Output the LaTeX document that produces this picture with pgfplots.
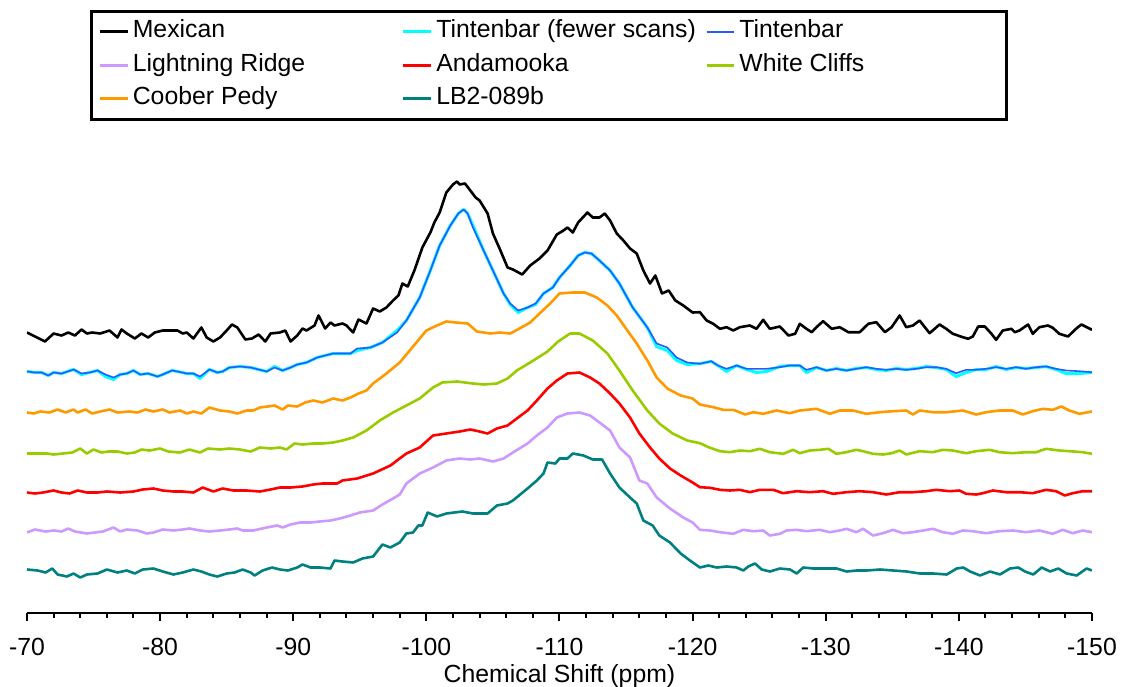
\documentclass[border=0pt]{standalone}
\usepackage{fontspec}
\setmainfont{Liberation Sans}
\usepackage{pgfplots}
\pgfplotsset{compat=1.18}
\definecolor{cCyan}{RGB}{0,255,255}
\definecolor{cBlue}{RGB}{40,90,255}
\definecolor{cPurple}{RGB}{204,153,255}
\definecolor{cRed}{RGB}{255,0,0}
\definecolor{cGreen}{RGB}{153,204,0}
\definecolor{cOrange}{RGB}{255,153,0}
\definecolor{cTeal}{RGB}{0,128,128}
\newcommand\fs{\fontsize{12.4pt}{14pt}\selectfont}
\begin{document}
\begin{tikzpicture}
\useasboundingbox (-13.5pt,-36.75pt) rectangle (550.5pt,306.25pt);
\begin{axis}[
  at={(0,0)}, anchor=south west,
  scale only axis, width=532.5pt, height=236pt,
  xmin=-150, xmax=-70, ymin=0, ymax=472,
  x dir=reverse,
  axis x line*=bottom, hide y axis,
  axis line style={line width=1pt,-},
  xtick={-150,-140,...,-70},
  minor x tick num=4,
  tick align=outside,
  major tick length=4pt, minor tick length=2.5pt,
  tick style={line width=1pt,black},
  ytick=\empty,
  no markers,
  /pgf/number format/assume math mode=true,
  xticklabel style={font=\fs, anchor=base, yshift=-17.5pt},
  xlabel={Chemical Shift (ppm)},
  xlabel style={font=\fs, at={(axis description cs:0.5,0)}, anchor=base, yshift=-35pt},
  legend columns=3,
  legend style={
    at={(axis description cs:0.0593,1.2765)}, anchor=north west,
    draw=black, line width=1.3pt, fill=white,
    inner xsep=3.65pt, inner ysep=4.25pt,
    font=\fs, row sep=4.75pt, column sep=0pt,
    cells={anchor=west},
    nodes={inner sep=0pt, text height=9pt, text depth=3pt},
    /tikz/every odd column/.append style={column sep=2pt},
  },
  legend image code/.code={\draw[#1,line cap=butt] (0pt,0pt) -- (13.75pt,0pt);},
  every axis plot/.append style={line join=round},
]
% Mexican
\addplot[black, line width=1.3pt] coordinates {
(-70.0,280)(-71.35,271)(-72.0,279)(-72.6,277)(-73.1,280)(-73.6,277)(-74.1,283)(-74.5,279)(-74.9,280)(-75.5,279)
(-76.2,282)(-76.8,275)(-77.1,283)(-77.5,279)(-78.1,274)(-78.6,279)(-79.1,275)(-79.6,280)(-80.2,282)(-81.3,282)
(-81.7,279)(-82.0,280)(-82.5,274)(-83.1,285)(-83.5,275)(-84.0,271)(-84.5,275)(-85.0,282)(-85.4,288)(-85.8,285)
(-86.4,273)(-86.9,274)(-87.4,278)(-87.9,271)(-88.3,279)(-89.0,280)(-89.4,282)(-89.8,271)(-90.3,277)(-90.7,284)
(-91.0,282)(-91.6,287)(-91.9,297)(-92.4,284)(-92.8,290)(-93.1,287)(-93.7,289)(-94.0,287)(-94.5,280)(-94.9,293)
(-95.5,289)(-96.0,304)(-96.5,301)(-97.0,305)(-97.5,312)(-97.9,317)(-98.2,329)(-98.6,326)(-99.1,342)(-99.7,365)
(-100.3,380)(-100.6,390)(-101.0,400)(-101.5,420)(-102.0,428)(-102.3,431)(-102.5,428)(-102.9,429)(-103.3,422)(-103.7,415)
(-104.0,412)(-104.6,399)(-105.0,379)(-105.5,364)(-106.1,345)(-106.5,343)(-107.2,338)(-107.8,347)(-108.5,354)(-109.1,362)
(-109.8,378)(-110.3,382)(-110.6,385)(-111.0,380)(-111.4,390)(-112.1,400)(-112.5,395)(-113.0,395)(-113.4,399)(-113.8,392)
(-114.3,379)(-114.8,372)(-115.3,364)(-115.8,359)(-116.3,342)(-116.8,329)(-117.2,337)(-117.7,319)(-118.2,322)(-118.7,312)
(-119.3,307)(-120.0,300)(-120.55,300.3)(-121.05,292)(-121.55,288.7)(-122.05,283.7)(-122.55,285.3)(-123.05,282)(-123.55,285.3)(-124.3,287)
(-124.8,283.7)(-125.3,292.7)(-125.8,283.7)(-126.55,286)(-127.2,277)(-127.7,278.7)(-128.05,288.7)(-128.55,283.7)(-128.95,280.3)(-129.3,285.3)
(-129.8,291.3)(-130.45,283.7)(-131.05,285.3)(-131.7,280.3)(-132.55,280.3)(-133.2,288.7)(-133.8,290.3)(-134.45,280.3)(-134.95,285.3)(-135.55,297)
(-136.05,285.3)(-136.55,287)(-137.05,292)(-137.8,279.3)(-138.55,288)(-139.05,283.7)(-139.55,278.7)(-140.3,275.3)(-140.7,273.7)(-141.05,276)
(-141.45,286)(-141.95,286)(-142.45,278.7)(-142.8,272.7)(-143.3,282)(-143.95,283.7)(-144.2,280.3)(-144.55,282)(-145.2,288)(-145.55,278.7)
(-146.05,285.3)(-146.7,287)(-147.05,284.7)(-147.55,278.7)(-148.2,276)(-148.8,283.7)(-149.2,288)(-150.0,282.7)
};
\addlegendentry{\makebox[134.5pt][l]{Mexican}}
% Tintenbar (fewer scans)
\addplot[cCyan, line width=1.5pt] coordinates {
(-70.0,241)(-70.6,240)(-71.1,240)(-71.6,237)(-72.0,240)(-72.6,239)(-73.5,243)(-74.1,238)(-74.7,240)(-75.3,242)
(-75.9,236)(-76.5,233)(-77.0,238)(-77.5,239)(-78.0,242)(-78.5,238)(-79.1,239)(-79.8,236)(-80.2,238)(-80.9,242)
(-81.3,241)(-82.0,239)(-82.5,239)(-83.0,234)(-83.7,243)(-84.3,240)(-84.7,241)(-85.2,245)(-86.0,246)(-86.8,245)
(-87.4,243)(-88.0,241)(-88.6,246)(-89.2,242)(-89.8,245)(-90.3,248)(-91.0,250)(-91.8,255)(-92.4,257)(-93.0,259)
(-93.7,259)(-94.3,259)(-94.8,262)(-95.8,265)(-96.7,270)(-97.8,282)(-98.5,292)(-99.5,315)(-100.3,342)(-101.0,367)
(-101.8,387)(-102.4,399)(-102.8,403)(-103.1,399)(-103.5,387)(-104.3,362)(-105.0,342)(-105.8,319)(-106.3,308)(-106.9,300)
(-107.6,305)(-108.2,308)(-108.8,319)(-109.5,325)(-110.0,335)(-110.8,347)(-111.4,357)(-111.9,360)(-112.4,359)(-113.0,352)
(-113.8,342)(-114.5,329)(-115.5,305)(-116.6,285)(-117.3,266)(-118.1,262)(-118.8,252)(-119.6,248)(-120.55,249)(-121.4,251)
(-121.9,247)(-122.55,241)(-123.3,247)(-124.05,243)(-124.8,240)(-125.55,241)(-126.55,246)(-127.3,247)(-128.05,247)(-128.55,240)
(-129.3,245)(-130.05,242)(-130.8,244)(-131.55,242)(-132.3,244)(-133.05,245)(-133.8,243)(-134.55,242)(-135.3,244)(-136.05,243)
(-136.8,244)(-137.55,246)(-138.3,245)(-139.05,243)(-139.8,236)(-140.55,240)(-141.3,243)(-142.05,243)(-142.8,246)(-143.55,243)
(-144.3,245)(-145.05,244)(-145.8,245)(-146.55,246)(-147.3,243)(-148.05,239)(-149.05,239)(-150.0,240)
};
\addlegendentry{\makebox[134.5pt][l]{Tintenbar (fewer scans)}}
% Tintenbar
\addplot[cBlue, line width=0.8pt] coordinates {
(-70.0,241)(-70.6,240)(-71.1,240)(-71.6,237)(-72.0,240)(-72.6,239)(-73.5,243)(-74.1,239)(-74.7,240)(-75.3,242)
(-75.9,238)(-76.5,235)(-77.0,238)(-77.5,239)(-78.0,242)(-78.5,238)(-79.1,239)(-79.8,236)(-80.2,238)(-80.9,242)
(-81.3,241)(-82.0,239)(-82.5,239)(-83.0,236)(-83.7,243)(-84.3,240)(-84.7,241)(-85.2,245)(-86.0,246)(-86.8,245)
(-87.4,243)(-88.0,241)(-88.6,245)(-89.2,242)(-89.8,245)(-90.3,248)(-91.0,250)(-91.8,255)(-92.4,257)(-93.0,259)
(-93.7,259)(-94.3,259)(-94.8,264)(-95.8,265)(-96.7,270)(-97.8,280)(-98.5,292)(-99.5,315)(-100.3,342)(-101.0,367)
(-101.8,387)(-102.4,399)(-102.8,403)(-103.1,399)(-103.5,385)(-104.3,362)(-105.0,342)(-105.8,319)(-106.3,309)(-106.9,302)
(-107.6,305)(-108.2,309)(-108.8,319)(-109.5,325)(-110.0,335)(-110.8,347)(-111.4,357)(-111.9,360)(-112.4,359)(-113.0,352)
(-113.8,342)(-114.5,329)(-115.5,305)(-116.6,285)(-117.3,269)(-118.1,265)(-118.8,255)(-119.6,250)(-120.55,248.7)(-121.4,251.3)
(-121.9,247)(-122.55,243.7)(-123.3,247)(-124.05,243.7)(-124.8,243.7)(-125.55,243.7)(-126.55,245.3)(-127.3,247)(-128.05,247)(-128.55,242.7)
(-129.3,245.3)(-130.05,242)(-130.8,243.7)(-131.55,242)(-132.3,243.7)(-133.05,245.3)(-133.8,243.7)(-134.55,242.7)(-135.3,243.7)(-136.05,242.7)
(-136.8,243.7)(-137.55,245.3)(-138.3,245.3)(-139.05,243.7)(-139.8,239.3)(-140.55,242.7)(-141.3,242.7)(-142.05,243.7)(-142.8,245.3)(-143.55,243.7)
(-144.3,245.3)(-145.05,243.7)(-145.8,245.3)(-146.55,246)(-147.3,243.7)(-148.05,242)(-149.05,241.3)(-150.0,240.3)
};
\addlegendentry{\makebox[130pt][l]{Tintenbar}}
% Lightning Ridge
\addplot[cPurple, line width=1.3pt] coordinates {
(-70.0,80)(-70.6,83)(-71.4,81)(-72.0,82)(-72.6,81)(-73.1,84)(-73.6,81)(-74.5,79)(-75.1,80)(-75.7,81)
(-76.5,85)(-77.0,81)(-77.5,83)(-78.3,82)(-79.0,79)(-79.5,80)(-80.2,83)(-81.0,82)(-81.7,83)(-82.2,84)
(-83.0,82)(-83.7,81)(-84.5,82)(-85.2,83)(-85.8,84)(-86.2,82)(-87.0,82)(-88.0,85)(-88.8,87)(-89.2,85)
(-89.8,88)(-90.5,90)(-91.3,90)(-92.0,91)(-92.8,92)(-93.5,94)(-94.3,97)(-95.0,100)(-96.0,102)(-96.7,108)
(-97.5,114)(-98.0,118)(-98.5,129)(-99.5,139)(-100.5,145)(-101.5,152)(-102.5,154)(-103.3,153)(-104.0,154)(-105.0,151)
(-105.8,154)(-106.5,160)(-107.6,169)(-108.3,177)(-109.1,185)(-109.8,195)(-110.6,199)(-111.5,200)(-112.3,197)(-113.0,190)
(-113.8,182)(-114.5,165)(-115.3,155)(-116.0,132)(-116.6,129)(-117.3,115)(-118.3,104)(-119.3,95)(-120.0,90)(-120.55,82.7)
(-121.3,82)(-122.05,80.3)(-123.05,78.7)(-123.8,82.7)(-124.55,81.3)(-125.3,82)(-125.8,77)(-126.55,78.7)(-127.05,82)(-127.8,82.7)
(-128.55,81.3)(-129.55,82.7)(-130.3,80.3)(-131.05,82)(-131.55,83.7)(-132.3,80.3)(-132.8,83.7)(-133.55,77)(-134.3,79.3)(-135.05,82.7)
(-135.8,79.3)(-136.55,80.3)(-137.3,82)(-138.05,83.7)(-138.8,80.3)(-139.55,78.7)(-140.3,82)(-141.05,81.3)(-142.05,79.3)(-143.05,81.3)
(-144.05,82)(-145.05,80.3)(-146.05,82)(-147.05,78.7)(-147.8,82.7)(-148.55,79.3)(-149.3,82)(-150.0,80.3)
};
\addlegendentry{\makebox[134.5pt][l]{Lightning Ridge}}
% Andamooka
\addplot[cRed, line width=1.3pt] coordinates {
(-70.0,120)(-70.6,119)(-71.2,120)(-72.0,122)(-72.6,120)(-73.2,119)(-73.8,122)(-74.5,120)(-75.3,120)(-76.0,121)
(-77.0,120)(-78.0,121)(-78.7,123)(-79.5,124)(-80.2,122)(-81.0,121)(-81.7,121)(-82.5,120)(-83.2,125)(-84.0,121)
(-84.7,124)(-85.5,122)(-86.5,122)(-87.5,121)(-88.3,123)(-89.0,125)(-89.8,125)(-90.7,126)(-91.5,128)(-92.2,129)
(-93.3,129)(-93.7,132)(-94.8,134)(-96.0,139)(-97.3,147)(-98.5,159)(-99.5,165)(-100.5,177)(-101.5,179)(-102.5,181)
(-103.3,183)(-104.0,181)(-104.6,179)(-105.3,184)(-106.1,187)(-106.8,194)(-107.6,202)(-108.3,212)(-109.1,224)(-109.8,232)
(-110.6,239)(-111.5,240)(-112.3,235)(-113.0,229)(-113.8,219)(-114.5,209)(-115.3,195)(-116.0,179)(-116.8,165)(-117.5,154)
(-118.3,144)(-119.1,137)(-120.0,130)(-120.55,125.3)(-121.3,124.7)(-122.05,122.7)(-122.8,122)(-123.55,122.7)(-124.3,120.3)(-125.05,122.7)
(-126.05,122.7)(-126.8,119.3)(-127.8,121.3)(-128.8,120.3)(-129.8,121.3)(-130.55,118.7)(-131.55,120.3)(-132.55,121.3)(-133.55,120.3)(-134.55,118)
(-135.55,120.3)(-136.55,120.3)(-137.55,121.3)(-138.3,122.7)(-139.3,121.3)(-140.05,122)(-140.55,118.7)(-141.3,118)(-141.8,119.3)(-142.55,122)
(-143.55,120.3)(-144.55,120.3)(-145.55,119.3)(-146.55,122.7)(-147.3,121.3)(-147.95,117)(-148.55,119.3)(-149.3,121.3)(-150.0,121.3)
};
\addlegendentry{\makebox[134.5pt][l]{Andamooka}}
% White Cliffs
\addplot[cGreen, line width=1.3pt] coordinates {
(-70.0,159)(-70.8,159)(-71.5,159)(-72.0,158)(-72.7,159)(-73.4,160)(-74.0,164)(-74.5,159)(-75.0,163)(-75.6,160)
(-76.1,161)(-76.8,161)(-77.5,159)(-78.1,160)(-78.6,163)(-79.2,162)(-80.0,164)(-80.6,161)(-81.5,160)(-82.2,163)
(-83.0,160)(-83.6,164)(-84.5,163)(-85.2,164)(-86.0,163)(-86.8,161)(-87.5,165)(-88.3,164)(-89.0,165)(-89.5,163)
(-90.1,169)(-90.7,168)(-91.5,169)(-92.2,169)(-93.0,170)(-93.7,172)(-94.5,175)(-95.5,182)(-96.5,192)(-97.5,200)
(-98.5,207)(-99.5,214)(-100.5,225)(-101.2,230)(-102.3,231)(-103.5,229)(-104.3,228)(-105.3,229)(-106.1,234)(-106.8,242)
(-107.8,250)(-109.1,261)(-109.9,271)(-110.8,279)(-111.5,279)(-112.5,272)(-113.6,259)(-114.5,242)(-115.5,222)(-116.6,202)
(-117.5,189)(-118.5,179)(-119.6,172)(-120.55,169.3)(-121.2,165.3)(-122.05,161.3)(-122.8,160.3)(-123.55,162)(-124.3,161.3)(-125.05,163.7)
(-125.8,160.3)(-126.8,158.7)(-127.55,162.7)(-128.05,159.3)(-128.8,162)(-129.55,162.7)(-130.2,163.7)(-130.8,158.7)(-131.55,160.3)(-132.3,162.7)
(-132.8,161.3)(-133.55,158.7)(-134.3,158)(-134.95,159.3)(-135.55,162)(-136.05,158)(-137.05,161.3)(-138.05,160.3)(-138.8,162.7)(-139.55,162)
(-140.55,159.3)(-141.3,161.3)(-142.3,162.7)(-143.05,160.3)(-144.05,159.3)(-145.05,160.3)(-145.8,160.3)(-146.55,163.7)(-147.55,162)(-148.3,161.3)
(-149.3,160.3)(-150.0,158.7)
};
\addlegendentry{\makebox[130pt][l]{White Cliffs}}
% Coober Pedy
\addplot[cOrange, line width=1.3pt] coordinates {
(-70.0,200)(-70.5,199)(-71.0,201)(-71.7,200)(-72.3,203)(-72.9,200)(-73.5,203)(-73.8,200)(-74.4,203)(-74.9,199)
(-75.5,201)(-76.2,203)(-76.8,200)(-77.7,201)(-78.3,200)(-78.9,203)(-79.5,201)(-80.2,203)(-80.7,200)(-81.5,202)
(-82.0,199)(-82.5,201)(-83.1,199)(-83.7,205)(-84.5,202)(-85.2,201)(-85.8,199)(-86.5,202)(-87.0,202)(-87.5,205)
(-88.1,206)(-88.6,207)(-89.2,203)(-89.6,207)(-90.3,206)(-90.9,210)(-91.5,212)(-92.2,210)(-93.0,214)(-93.7,212)
(-94.3,215)(-94.9,219)(-95.5,222)(-96.0,229)(-97.0,239)(-98.0,250)(-99.0,266)(-100.0,282)(-100.8,287)(-101.5,291)
(-102.2,290)(-103.1,289)(-103.8,281)(-104.8,279)(-105.5,280)(-106.3,279)(-107.0,284)(-107.8,290)(-108.5,299)(-109.3,309)
(-110.0,319)(-111.0,320)(-111.9,320)(-112.8,315)(-113.6,307)(-114.3,297)(-115.1,282)(-115.8,269)(-116.6,252)(-117.3,235)
(-118.1,224)(-119.1,217)(-120.0,214)(-120.55,208)(-121.55,205.3)(-122.3,202.7)(-123.05,202.7)(-123.95,198)(-124.55,200.3)(-125.3,198.7)
(-126.3,202)(-127.3,199.3)(-128.05,202)(-129.3,203.7)(-130.3,198.7)(-131.05,202)(-132.05,202)(-133.05,198.7)(-134.05,200.3)(-135.05,201.3)
(-136.05,202)(-136.55,198)(-137.05,202)(-138.05,200.3)(-139.05,200.3)(-140.3,202)(-141.3,198)(-142.05,200.3)(-143.05,202)(-144.05,202)
(-144.8,198)(-145.55,201.3)(-146.3,203.7)(-147.05,202.7)(-147.7,206)(-148.3,202)(-149.05,198.7)(-150.0,201)
};
\addlegendentry{\makebox[134.5pt][l]{Coober Pedy}}
% LB2-089b
\addplot[cTeal, line width=1.3pt] coordinates {
(-70.0,43)(-70.8,42)(-71.4,40)(-71.9,44)(-72.3,38)(-73.0,36)(-73.5,39)(-74.0,35)(-74.5,38)(-75.3,39)
(-76.0,43)(-76.8,40)(-77.5,42)(-78.1,39)(-78.7,43)(-79.5,44)(-80.2,41)(-81.0,38)(-81.7,40)(-82.5,43)
(-83.1,41)(-83.7,38)(-84.3,36)(-85.0,39)(-85.6,40)(-86.2,43)(-86.8,40)(-87.1,37)(-87.7,42)(-88.4,45)
(-89.0,43)(-89.6,42)(-90.3,45)(-90.7,48)(-91.3,45)(-92.0,45)(-92.8,44)(-93.1,52)(-93.7,51)(-94.5,50)
(-95.2,54)(-96.0,56)(-96.7,68)(-97.3,65)(-98.0,70)(-98.5,79)(-99.0,80)(-99.4,87)(-99.7,87)(-100.1,100)
(-100.8,96)(-101.5,99)(-102.7,101)(-103.5,99)(-104.6,99)(-105.3,107)(-106.1,109)(-106.5,112)(-107.6,124)(-108.3,132)
(-108.8,139)(-109.1,150)(-109.7,149)(-110.0,154)(-110.6,154)(-111.0,159)(-111.8,157)(-112.5,153)(-113.2,153)(-113.8,139)
(-114.5,125)(-115.3,115)(-115.8,109)(-116.3,92)(-117.0,87)(-117.5,77)(-118.3,70)(-119.1,59)(-119.8,52)(-120.55,45)
(-121.18,47)(-121.81,45)(-122.56,46)(-123.31,45)(-123.81,42)(-124.18,46)(-124.69,49)(-125.19,43)(-125.81,41)(-126.56,44)
(-127.32,43)(-127.82,39)(-128.31,45)(-129.06,44)(-130.07,44)(-130.82,44)(-131.57,41)(-132.33,42)(-133.08,42)(-134.08,43)
(-135.07,42)(-136.08,41)(-137.08,39)(-138.08,39)(-139.09,38)(-139.84,44)(-140.33,45)(-140.84,41)(-141.59,37)(-142.34,41)
(-143.09,38)(-143.84,44)(-144.46,45)(-144.97,41)(-145.59,38)(-146.22,45)(-146.85,41)(-147.47,44)(-148.10,39)(-148.85,37)
(-149.60,44)(-150.0,42)
};
\addlegendentry{\makebox[134.5pt][l]{LB2-089b}}
\end{axis}
\end{tikzpicture}
\end{document}
